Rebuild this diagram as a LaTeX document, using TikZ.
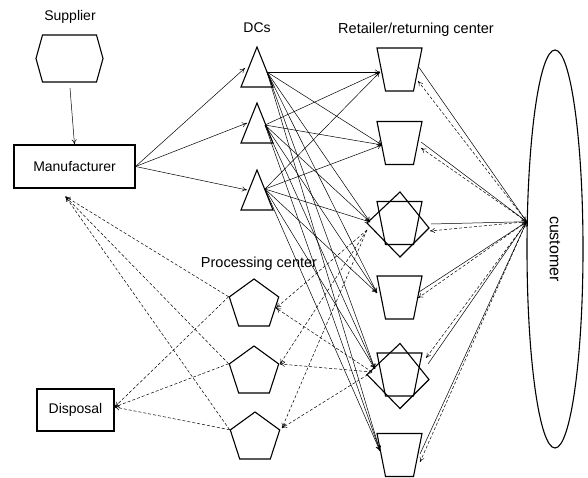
\documentclass[tikz,border=0pt]{standalone}
\usepackage{fontspec}
\setmainfont{Liberation Sans}
\usetikzlibrary{shapes.geometric,arrows.meta,calc}
\begin{document}
\begin{tikzpicture}[x=1pt,y=-1pt,
  shapeline/.style={line width=1.1pt, line join=miter},
  holder/.style={inner sep=0pt, outer sep=0pt},
  lbl/.style={font=\fontsize{14}{16}\selectfont, inner sep=0pt},
  fwd/.style={-{To[length=5pt,width=5pt]}, line width=0.5pt},
  ret/.style={-{To[length=5pt,width=5pt]}, line width=0.5pt, dash pattern=on 3pt off 2pt},
  pent/.style={draw, shapeline, regular polygon, regular polygon sides=5,
    minimum size=52pt, inner sep=0pt}
]
\useasboundingbox (0,0) rectangle (588,478);

% ---------- labels ----------
\node[lbl] (suplbl) at (70,17) {Supplier};
\node[lbl] (dclbl) at (257,28) {DCs};
\node[lbl, font=\fontsize{14.5}{16}\selectfont] (retlbl) at (416,30) {Retailer/returning center};
\node[lbl, font=\fontsize{14.5}{16}\selectfont] (proclbl) at (259,264) {Processing center};

% ---------- supplier (hexagon) ----------
\node[holder, minimum width=67pt, minimum height=47pt] (sup) at (69.5,58.5) {};
\draw[shapeline] (sup.west) -- ([xshift=6.5pt]sup.north west) -- ([xshift=-6.5pt]sup.north east)
  -- (sup.east) -- ([xshift=-6.5pt]sup.south east) -- ([xshift=6.5pt]sup.south west) -- cycle;

% ---------- manufacturer and disposal ----------
\node[draw, shapeline, lbl, minimum width=121pt, minimum height=43pt] (man) at (74.5,166.5) {Manufacturer};
\node[draw, shapeline, lbl, minimum width=77pt, minimum height=42pt] (disp) at (75.5,410) {Disposal};

% ---------- distribution centres (triangles) ----------
\foreach \n/\y in {d1/67, d2/123, d3/190}{
  \node[holder, minimum width=32pt, minimum height=40pt] (\n) at (257,\y) {};
  \draw[shapeline] (\n.south west) -- (\n.north) -- (\n.south east) -- cycle;
}

% ---------- retailers (trapezia) ----------
\foreach \n/\y in {r1/69.5, r2/143, r3/223, r4/297.5, r5/374.5, r6/455}{
  \node[holder, minimum width=45pt, minimum height=43pt] (\n) at (399.5,\y) {};
  \draw[shapeline] (\n.north west) -- (\n.north east) -- ([xshift=-8.5pt]\n.south east)
    -- ([xshift=8.5pt]\n.south west) -- cycle;
}
% returning centres carry an extra square
\foreach \n in {r3, r5}{
  \draw[shapeline] ($(\n)+(0.5,-31)$) -- ($(\n)+(29.5,5)$) -- ($(\n)+(0.5,34)$) -- ($(\n)+(-32.5,0)$) -- cycle;
}

% ---------- processing centres ----------
\node[pent] (p1) at (254,305) {};
\node[pent] (p2) at (254,372) {};
\node[pent] (p3) at (255,438) {};

% ---------- customer ----------
\node[draw, shapeline, ellipse, minimum width=56pt, minimum height=398pt, inner sep=0pt] (cust) at (555,249)
  {\rotatebox{-90}{\fontsize{16}{18}\selectfont customer}};

% ---------- connection ports ----------
\coordinate (d1in) at ($(d1)+(-12,1)$);
\coordinate (d2in) at ($(d2)+(-10,0)$);
\coordinate (d3in) at ($(d3)+(-10,0)$);
\coordinate (d1out) at ($(d1)+(10,5)$);
\coordinate (d2out) at ($(d2)+(8,2)$);
\coordinate (d3out) at ($(d3)+(8,-1)$);

\coordinate (r1in) at (380,72);
\coordinate (r2in) at (382,145);
\coordinate (r3in) at (370,222);
\coordinate (r4in) at (377,293);
\coordinate (r5in) at (375,369);
\coordinate (r6in) at (380,451);

\coordinate (custport) at (cust.136);

\coordinate (r1s) at (418,66);   \coordinate (r1d) at (418,81);
\coordinate (r2s) at (421,142);  \coordinate (r2d) at (421,148);
\coordinate (r3s) at (431,224);  \coordinate (r3d) at (430,231);
\coordinate (r4s) at (419,292);  \coordinate (r4d) at (418,298);
\coordinate (r5s) at (428,364);  \coordinate (r5d) at (426,358);
\coordinate (r6s) at (420,454);  \coordinate (r6d) at (420,462);

\coordinate (r3p) at (367,230);
\coordinate (r5p) at (372,372);
\coordinate (p1in) at ($(p1)+(22,3)$);
\coordinate (p2in) at ($(p2)+(26,-8)$);
\coordinate (p3in) at ($(p3)+(27,-10)$);
\coordinate (p1out) at (p1.corner 2);
\coordinate (p2out) at (p2.corner 2);
\coordinate (p3out) at (p3.corner 2);
\coordinate (manret) at ($(man.south west)+(52,8)$);
\coordinate (dispin) at ($(disp.east)+(0,-3)$);

% ---------- forward flows ----------
\draw[fwd, shorten <=6pt] (sup.south) -- (man.north);
\foreach \d in {d1in, d2in, d3in}{ \draw[fwd] (man.east) -- (\d); }
\foreach \d in {d1out, d2out, d3out}{
  \foreach \r in {r1in, r2in, r3in, r4in, r5in, r6in}{ \draw[fwd] (\d) -- (\r); }
}
\foreach \r in {r1s, r2s, r3s, r4s, r5s, r6s}{ \draw[fwd] (\r) -- (custport); }

% ---------- return flows ----------
\foreach \r in {r1d, r2d, r3d, r4d, r5d, r6d}{ \draw[ret] (custport) -- (\r); }
\foreach \s in {r3p, r5p}{
  \foreach \p in {p1in, p2in, p3in}{ \draw[ret] (\s) -- (\p); }
}
\foreach \p in {p1out, p2out, p3out}{
  \draw[ret] (\p) -- (manret);
  \draw[ret] (\p) -- (dispin);
}
\end{tikzpicture}
\end{document}
